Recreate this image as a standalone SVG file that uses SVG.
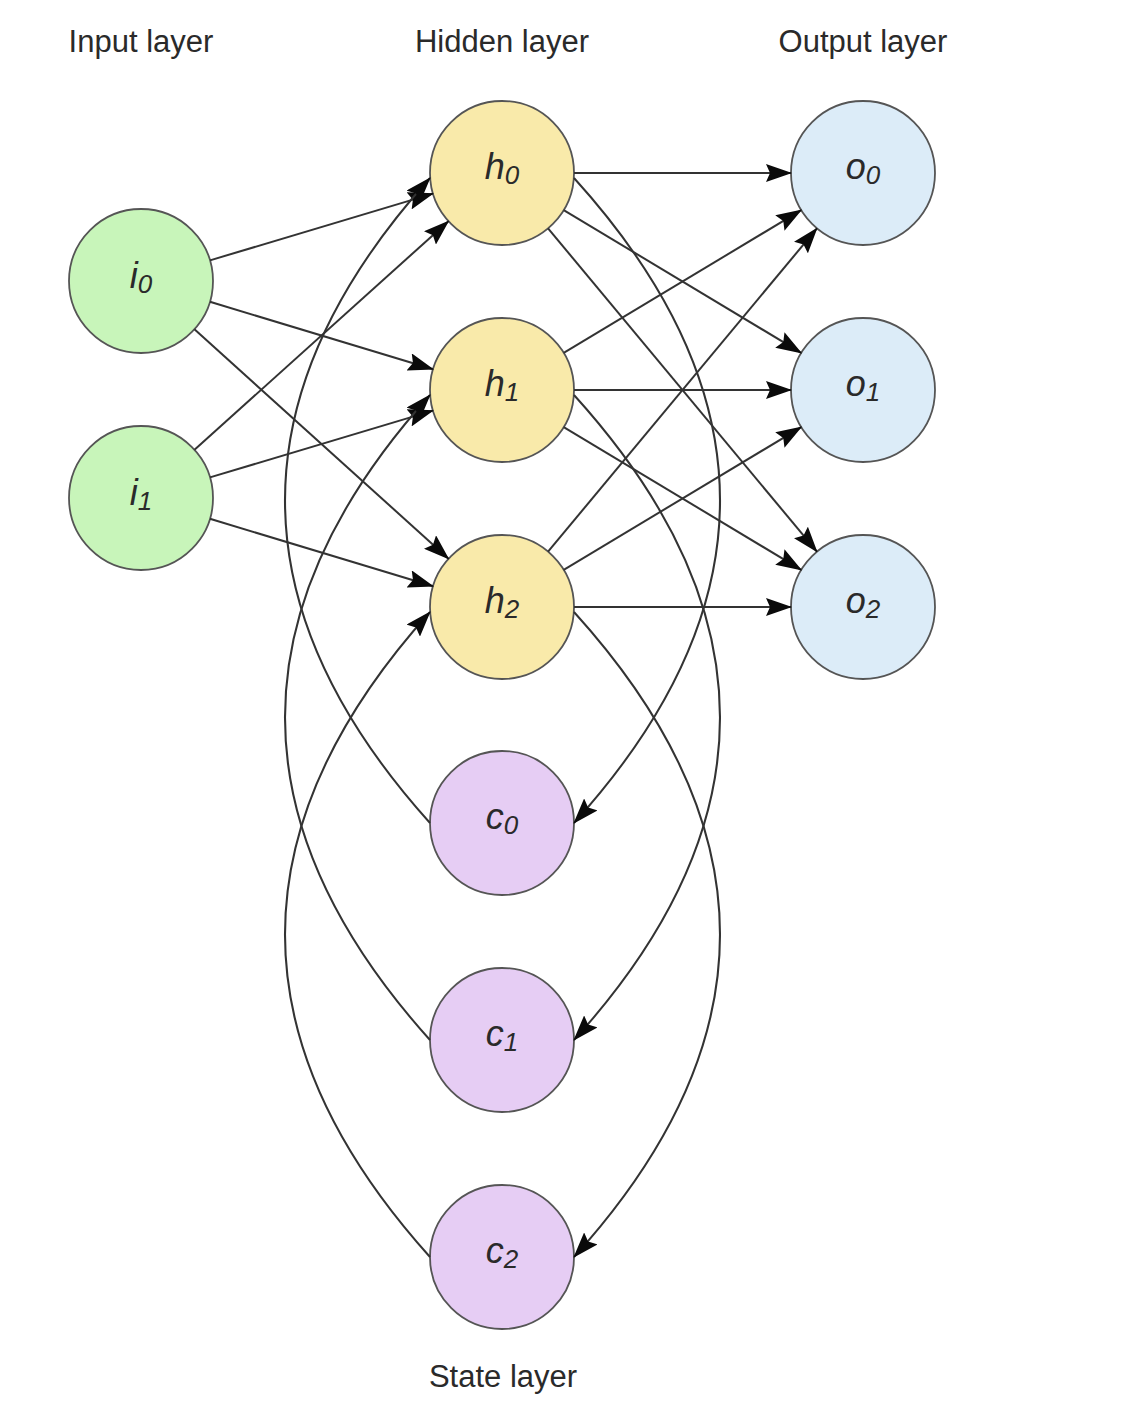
<svg xmlns="http://www.w3.org/2000/svg" width="1142" height="1426" viewBox="0 0 1142 1426">
  <style>
    .title { font-family: "Liberation Sans", Arial, sans-serif; font-size: 31px; fill: #2a2a2a; text-anchor: middle; }
    .lbl { font-family: "Liberation Sans", Arial, sans-serif; font-size: 36px; font-style: italic; fill: #2a2a2a; text-anchor: middle; }
    .sub { font-size: 26px; }
    .node { stroke: #555555; stroke-width: 1.8; }
    .in { fill: #c8f5ba; }
    .hid { fill: #f9eaaa; }
    .out { fill: #dcecf8; }
    .st { fill: #e6cdf4; }
    .edge { fill: none; stroke: #333333; stroke-width: 2; marker-end: url(#arrow); }
  </style>
  <defs>
    <marker id="arrow" markerUnits="userSpaceOnUse" viewBox="0 0 26 18" markerWidth="26" markerHeight="18" refX="25" refY="9" orient="auto">
      <path d="M0,0 L26,9 L0,18 L4,9 Z" fill="#0a0a0a"/>
    </marker>
  </defs>
  <rect width="1142" height="1426" fill="#ffffff"/>

  <text class="title" x="141" y="52">Input layer</text>
  <text class="title" x="502" y="52">Hidden layer</text>
  <text class="title" x="863" y="52">Output layer</text>
  <text class="title" x="503" y="1387">State layer</text>

  <g id="node-i0"><circle class="node in" cx="141" cy="281" r="72"/><text class="lbl" x="141" y="288">i<tspan class="sub" dy="5">0</tspan></text></g>
  <g id="node-i1"><circle class="node in" cx="141" cy="498" r="72"/><text class="lbl" x="141" y="505">i<tspan class="sub" dy="5">1</tspan></text></g>
  <g id="node-h0"><circle class="node hid" cx="502" cy="173" r="72"/><text class="lbl" x="502" y="179">h<tspan class="sub" dy="5">0</tspan></text></g>
  <g id="node-h1"><circle class="node hid" cx="502" cy="390" r="72"/><text class="lbl" x="502" y="396">h<tspan class="sub" dy="5">1</tspan></text></g>
  <g id="node-h2"><circle class="node hid" cx="502" cy="607" r="72"/><text class="lbl" x="502" y="613">h<tspan class="sub" dy="5">2</tspan></text></g>
  <g id="node-o0"><circle class="node out" cx="863" cy="173" r="72"/><text class="lbl" x="863" y="179">o<tspan class="sub" dy="5">0</tspan></text></g>
  <g id="node-o1"><circle class="node out" cx="863" cy="390" r="72"/><text class="lbl" x="863" y="396">o<tspan class="sub" dy="5">1</tspan></text></g>
  <g id="node-o2"><circle class="node out" cx="863" cy="607" r="72"/><text class="lbl" x="863" y="613">o<tspan class="sub" dy="5">2</tspan></text></g>
  <g id="node-c0"><circle class="node st" cx="502" cy="823" r="72"/><text class="lbl" x="502" y="829">c<tspan class="sub" dy="5">0</tspan></text></g>
  <g id="node-c1"><circle class="node st" cx="502" cy="1040" r="72"/><text class="lbl" x="502" y="1046">c<tspan class="sub" dy="5">1</tspan></text></g>
  <g id="node-c2"><circle class="node st" cx="502" cy="1257" r="72"/><text class="lbl" x="502" y="1263">c<tspan class="sub" dy="5">2</tspan></text></g>

  <g id="connectors">
    <!-- input to hidden -->
    <path class="edge" d="M209.98,260.36 L433.02,193.64"/>
    <path class="edge" d="M209.93,301.81 L433.07,369.19"/>
    <path class="edge" d="M194.44,329.26 L448.56,558.74"/>
    <path class="edge" d="M194.51,449.83 L448.49,221.17"/>
    <path class="edge" d="M209.98,477.36 L433.02,410.64"/>
    <path class="edge" d="M209.93,518.81 L433.07,586.19"/>
    <!-- hidden to output -->
    <path class="edge" d="M574,173 L791,173"/>
    <path class="edge" d="M563.71,210.09 L801.29,352.91"/>
    <path class="edge" d="M548.04,228.35 L816.96,551.65"/>
    <path class="edge" d="M563.71,352.91 L801.29,210.09"/>
    <path class="edge" d="M574,390 L791,390"/>
    <path class="edge" d="M563.71,427.09 L801.29,569.91"/>
    <path class="edge" d="M548.04,551.65 L816.96,228.35"/>
    <path class="edge" d="M563.71,569.91 L801.29,427.09"/>
    <path class="edge" d="M574,607 L791,607"/>
    <!-- hidden to state -->
    <path class="edge" d="M574,178 Q866,500.5 574,823"/>
    <path class="edge" d="M574,395 Q866,717.5 574,1040"/>
    <path class="edge" d="M574,612 Q866,934.5 574,1257"/>
    <!-- state to hidden -->
    <path class="edge" d="M430,823 Q140,500.5 430,178"/>
    <path class="edge" d="M430,1040 Q140,717.5 430,395"/>
    <path class="edge" d="M430,1257 Q140,934.5 430,612"/>
  </g>
</svg>
